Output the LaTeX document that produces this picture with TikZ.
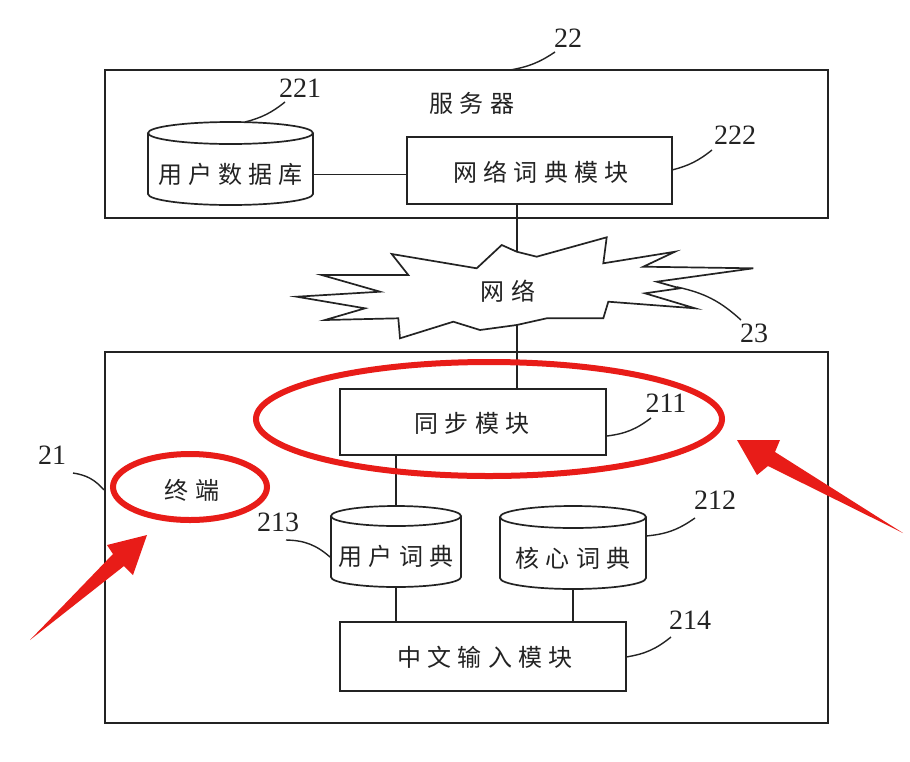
\documentclass[tikz,border=0pt]{standalone}
\usepackage{fontspec}
\newfontfamily\cjk{Noto Sans CJK SC}[LetterSpace=26]
\newfontfamily\numf{Liberation Serif}
\definecolor{redc}{RGB}{232,28,24}
\definecolor{inkc}{RGB}{35,35,35}
\tikzset{
  ln/.style={line width=1.7pt, draw=inkc},
  box/.style={draw=inkc, line width=1.8pt, rectangle, inner sep=0pt},
  cn/.style={font=\cjk\fontsize{24}{28}\selectfont, text=inkc, inner sep=0pt},
  num/.style={font=\numf\fontsize{28}{30}\selectfont, text=inkc, inner sep=0pt},
  lead/.style={line width=1.4pt, draw=inkc},
  redring/.style={draw=redc, line width=6pt},
  redarrow/.style={fill=redc, draw=none},
}
\newcommand\mycyl[7]{%
  \draw[ln] (#2,#3) ellipse[x radius=#5, y radius=#6];
  \draw[ln] (#2-#5,#3) -- (#2-#5,#4) arc[start angle=180, end angle=0, x radius=#5, y radius=#6] -- (#2+#5,#3);
  \node[cn, minimum width={2*#5*1pt}, minimum height={(#4-#3)*1pt}] (#1) at (#2,{(#3+#4)/2+#6}) {#7};
}
\begin{document}
\begin{tikzpicture}[x=1pt,y=-1pt]
\useasboundingbox (0,0) rectangle (910,761);
\fill[white] (0,0) rectangle (910,761);

% server
\node[box, minimum width=723pt, minimum height=148pt] (server) at (466.5,144) {};
\node[cn] (srvlabel) at (472,103) {服务器};
\node[box, minimum width=265pt, minimum height=67pt] (netdict) at (539.5,170.5) {};
\node[cn] at (541,172) {网络词典模块};
\mycyl{userdb}{230.5}{133}{194}{82.5}{11}{用户数据库}
\draw[ln] (userdb.east) -- (userdb.east -| netdict.west);

% network cloud
\draw[ln, fill=white] (296.7,296.7) -- (380,291.7) -- (321.7,275) -- (408.3,275) -- (391.7,254)
  -- (476.7,268.3) -- (501.7,245) -- (516.7,251.7) -- (536.7,256.7) -- (606.7,237.3)
  -- (603.3,263.3) -- (675,251.7) -- (643.3,266.7) -- (753.3,268.3) -- (656.7,281.7)
  -- (680,288.3) -- (645,293.3) -- (695,308.3) -- (608.3,301.7) -- (603.3,318.3)
  -- (546.7,318.3) -- (516.7,325) -- (480,330) -- (453.3,321.7) -- (400,338.3)
  -- (398.3,318.3) -- (325,320) -- (365,308.3) -- cycle;
\node[cn] (cloud) at (508,291) {网络};
\coordinate (cloudtop) at (517,252);
\coordinate (cloudbot) at (517,324.5);

% terminal
\node[box, minimum width=723pt, minimum height=371pt] (terminal) at (466.5,537.5) {};
\node[box, minimum width=266pt, minimum height=66pt] (sync) at (473,422) {};
\node[cn] at (472,423) {同步模块};
\node[box, minimum width=286pt, minimum height=69pt] (input) at (483,656.5) {};
\node[cn] at (485,657) {中文输入模块};
\mycyl{userdict}{396}{516}{577}{65}{10}{用户词典}
\mycyl{coredict}{573}{517}{578}{73}{11}{核心词典}
\node[cn] (term) at (192,490) {终端};

% connectors
\draw[ln] (cloudtop |- netdict.south) -- (cloudtop);
\draw[ln] (cloudbot) -- (cloudbot |- sync.north);
\draw[ln] (userdict.north |- sync.south) -- ([yshift=20pt]userdict.north);
\draw[ln] (userdict.south) -- (userdict.south |- input.north);
\draw[ln] (coredict.south) -- (coredict.south |- input.north);

% reference numerals
\node[num] (n22) at (568,38) {22};
\node[num] (n221) at (300,88) {221};
\node[num] (n222) at (735,135) {222};
\node[num] (n23) at (754,333) {23};
\node[num] (n211) at (666,403) {211};
\node[num] (n21) at (52,455) {21};
\node[num] (n213) at (278,522) {213};
\node[num] (n212) at (715,500) {212};
\node[num] (n214) at (690,620) {214};

\draw[lead] (510,70) to[bend right=12] (555,52);
\draw[lead] (245,122) to[bend right=12] (285,102);
\draw[lead] (672,170) to[bend right=12] (712,150);
\draw[lead] (677,287) to[bend left=15] (741,320);
\draw[lead] (607,436) to[bend right=15] (651,418);
\draw[lead] (73,473) to[bend left=20] (104,490);
\draw[lead] (286,540) to[bend left=20] (330,557);
\draw[lead] (646,536) to[bend right=15] (695,518);
\draw[lead] (626,657) to[bend right=15] (671,637);

% red highlights
\draw[redring] (489,419) ellipse[x radius=233, y radius=57];
\draw[redring] (190,487) ellipse[x radius=77, y radius=33];
\fill[redarrow] (30,640) -- (113,554) -- (107,545) -- (147,535) -- (133,575) -- (124,566) -- cycle;
\fill[redarrow] (903,533) -- (775,452) -- (780,440) -- (737,440) -- (757,475) -- (768,466) -- cycle;
\end{tikzpicture}
\end{document}
